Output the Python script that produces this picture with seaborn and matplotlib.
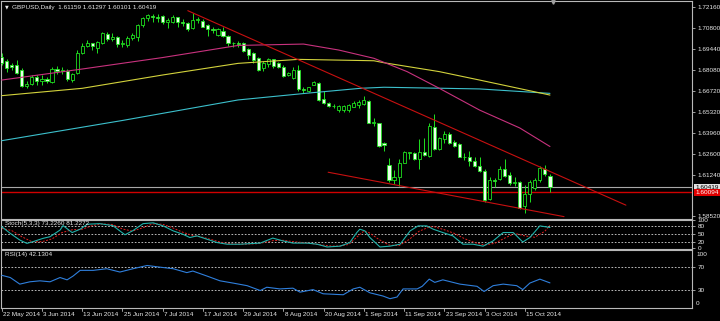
import numpy as np
import pandas as pd
import matplotlib
matplotlib.use("Agg")
import matplotlib.pyplot as plt
import matplotlib.transforms as mtransforms
import seaborn as sns

# ---------------- data ----------------
dates = pd.bdate_range("2014-05-22", "2014-10-22")  # daily bars

opens = [1.6891, 1.6865, 1.6839, 1.6839, 1.6807, 1.6702, 1.6715, 1.6761, 1.6735, 1.6748,
         1.6730, 1.6811, 1.6800, 1.6802, 1.6741, 1.6785, 1.6916, 1.6963, 1.6981, 1.6948,
         1.6981, 1.7040, 1.7007, 1.7024, 1.6974, 1.6970, 1.7018, 1.7024, 1.7100, 1.7144,
         1.7161, 1.7155, 1.7159, 1.7122, 1.7122, 1.7151, 1.7122, 1.7115, 1.7079, 1.7133,
         1.7128, 1.7098, 1.7072, 1.7035, 1.7063, 1.7029, 1.6981, 1.6985, 1.6981, 1.6942,
         1.6916, 1.6883, 1.6818, 1.6846, 1.6876, 1.6850, 1.6828, 1.6772, 1.6752, 1.6807,
         1.6680, 1.6671, 1.6711, 1.6720, 1.6615, 1.6589, 1.6571, 1.6545, 1.6543, 1.6545,
         1.6567, 1.6578, 1.6584, 1.6606, 1.6462, 1.6458, 1.6328, 1.6186, 1.6088, 1.6106,
         1.6201, 1.6267, 1.6267, 1.6223, 1.6273, 1.6245, 1.6436, 1.6289, 1.6354, 1.6389,
         1.6338, 1.6324, 1.6241, 1.6241, 1.6214, 1.6180, 1.6149, 1.5962, 1.6088, 1.6093,
         1.6158, 1.6121, 1.6067, 1.6077, 1.5919, 1.5997, 1.6034, 1.6088, 1.6158, 1.61159]
highs = [1.6918, 1.6876, 1.6850, 1.6872, 1.6818, 1.6735, 1.6774, 1.6774, 1.6774, 1.6761,
         1.6828, 1.6833, 1.6828, 1.6811, 1.6789, 1.6937, 1.6985, 1.7002, 1.6985, 1.6998,
         1.7057, 1.7055, 1.7046, 1.7029, 1.7002, 1.7029, 1.7050, 1.7107, 1.7155, 1.7172,
         1.7172, 1.7172, 1.7166, 1.7144, 1.7166, 1.7155, 1.7138, 1.7122, 1.7181, 1.7151,
         1.7138, 1.7107, 1.7089, 1.7079, 1.7085, 1.7035, 1.6991, 1.6998, 1.6991, 1.6948,
         1.6926, 1.6894, 1.6865, 1.6883, 1.6880, 1.6861, 1.6839, 1.6795, 1.6824, 1.6839,
         1.6693, 1.6697, 1.6737, 1.6730, 1.6671, 1.6600, 1.6584, 1.6578, 1.6578, 1.6582,
         1.6606, 1.6611, 1.6637, 1.6611, 1.6491, 1.6462, 1.6338, 1.6230, 1.6154, 1.6223,
         1.6280, 1.6273, 1.6273, 1.6354, 1.6361, 1.6458, 1.6519, 1.6371, 1.6410, 1.6404,
         1.6350, 1.6332, 1.6263, 1.6280, 1.6241, 1.6241, 1.6158, 1.6106, 1.6101, 1.6180,
         1.6223, 1.6143, 1.6106, 1.6084, 1.6056, 1.6088, 1.6099, 1.6180, 1.6186, 1.61297]
lows = [1.6839, 1.6795, 1.6807, 1.6781, 1.6694, 1.6690, 1.6709, 1.6709, 1.6709, 1.6722,
        1.6720, 1.6781, 1.6781, 1.6737, 1.6730, 1.6781, 1.6911, 1.6955, 1.6937, 1.6916,
        1.6976, 1.6998, 1.6998, 1.6959, 1.6959, 1.6959, 1.7002, 1.6998, 1.7089, 1.7128,
        1.7122, 1.7122, 1.7107, 1.7079, 1.7111, 1.7089, 1.7094, 1.7063, 1.7072, 1.7111,
        1.7085, 1.7029, 1.7046, 1.7029, 1.7020, 1.6963, 1.6959, 1.6959, 1.6926, 1.6876,
        1.6850, 1.6802, 1.6802, 1.6828, 1.6818, 1.6818, 1.6763, 1.6767, 1.6746, 1.6671,
        1.6658, 1.6665, 1.6707, 1.6606, 1.6584, 1.6563, 1.6556, 1.6532, 1.6532, 1.6535,
        1.6563, 1.6556, 1.6578, 1.6458, 1.6441, 1.6306, 1.6280, 1.6077, 1.6062, 1.6049,
        1.6197, 1.6223, 1.6219, 1.6158, 1.6245, 1.6236, 1.6284, 1.6284, 1.6328, 1.6324,
        1.6306, 1.6237, 1.6219, 1.6180, 1.6175, 1.6143, 1.5947, 1.5958, 1.6045, 1.6088,
        1.6106, 1.6056, 1.6049, 1.5897, 1.5875, 1.5947, 1.6023, 1.6077, 1.6114, 1.60101]
closes = [1.6852, 1.6818, 1.6823, 1.6789, 1.6702, 1.6715, 1.6761, 1.6735, 1.6748, 1.6735,
          1.6811, 1.6800, 1.6807, 1.6746, 1.6781, 1.6920, 1.6963, 1.6981, 1.6966, 1.6991,
          1.7046, 1.7007, 1.7024, 1.6974, 1.6985, 1.7018, 1.7035, 1.7100, 1.7144, 1.7166,
          1.7155, 1.7144, 1.7122, 1.7133, 1.7155, 1.7122, 1.7111, 1.7072, 1.7133, 1.7138,
          1.7089, 1.7072, 1.7068, 1.7072, 1.7029, 1.6981, 1.6985, 1.6979, 1.6933, 1.6905,
          1.6872, 1.6807, 1.6854, 1.6876, 1.6833, 1.6824, 1.6767, 1.6789, 1.6807, 1.6680,
          1.6676, 1.6693, 1.6728, 1.6611, 1.6589, 1.6571, 1.6569, 1.6571, 1.6569, 1.6575,
          1.6589, 1.6600, 1.6611, 1.6462, 1.6465, 1.6310, 1.6317, 1.6088, 1.6110, 1.6201,
          1.6273, 1.6269, 1.6223, 1.6273, 1.6252, 1.6441, 1.6289, 1.6361, 1.6389, 1.6328,
          1.6310, 1.6241, 1.6237, 1.6214, 1.6180, 1.6149, 1.5958, 1.6088, 1.6080, 1.6158,
          1.6114, 1.6067, 1.6077, 1.5903, 1.5997, 1.6077, 1.6088, 1.6165, 1.6127, 1.60419]

# moving averages (sampled at bar positions)
ma_pink_bar = [0, 16, 32, 47, 60, 67, 74, 80.6, 87, 95, 103, 109]
ma_pink = [1.6741, 1.6813, 1.6888, 1.6967, 1.6976, 1.6937, 1.6883, 1.6796, 1.6687, 1.6545, 1.6428, 1.6307]
ma_yellow_bar = [0, 16, 32, 47, 59, 74, 76, 87, 95, 109]
ma_yellow = [1.6639, 1.6687, 1.6774, 1.6850, 1.6876, 1.6867, 1.6854, 1.6796, 1.6741, 1.6643]
ma_cyan_bar = [0, 24, 47, 61, 71.3, 76, 95, 109]
ma_cyan = [1.6345, 1.6477, 1.6611, 1.6656, 1.6687, 1.6694, 1.6683, 1.6654]

# trend lines (bar, price)
trend_upper_bar = [37.0, 124.1]
trend_upper = [1.7194, 1.5924]
trend_lower_bar = [64.9, 111.8]
trend_lower = [1.6139, 1.5849]
red_level = 1.60094
bid_level = 1.60419

# Stochastic (5,3,3)
stoch_main_bar = [0, 1.7, 3.6, 5.0, 6.2, 8.2, 9.6, 11.6, 12.2, 14.0, 15.6, 17.0, 19.5, 22.1, 24.5,
                  26.1, 28.1, 30.1, 32.1, 34.1, 36.0, 37.4, 38.8, 40.8, 42.8, 44.8, 47.4, 51.4,
                  53.9, 55.9, 57.9, 60.7, 62.7, 64.7, 67.3, 69.2, 70.6, 71.2, 72.2, 73.2, 75.2,
                  77.2, 79.2, 81.2, 82.8, 84.5, 85.8, 87.7, 89.7, 91.7, 93.7, 95.7, 97.7, 99.7,
                  101.7, 103.6, 105.0, 107.0, 109.0]
stoch_main = [76, 52, 28, 16, 22, 34, 40, 64, 80, 55, 67, 85, 87, 80, 47,
              62, 87, 90, 79, 61, 49, 37, 43, 31, 19, 13, 13, 17,
              35, 25, 17, 17, 13, 3, 6, 19, 55, 67, 61, 37, 3,
              6, 13, 61, 79, 79, 67, 55, 43, 13, 13, 6, 25, 55,
              55, 21, 37, 79, 73.2]
stoch_sig_bar = [0, 2, 4, 6, 8, 10, 12, 14, 16, 18, 20, 22, 24, 26, 28, 30, 32, 34, 36, 38, 40,
                 42, 44, 46, 48, 51, 54, 56, 58, 61, 63, 65, 67, 69, 71, 72, 73, 75, 77, 79,
                 81, 83, 85, 86, 88, 90, 92, 94, 96, 98, 100, 102, 104, 106, 108, 109]
stoch_sig = [70, 62, 40, 22, 22, 32, 55, 65, 67, 80, 86, 84, 68, 60, 72, 86, 85, 72, 56, 44, 38,
             28, 18, 14, 13, 15, 26, 27, 22, 17, 12, 7, 6, 12, 45, 60, 55, 30, 10, 8,
             30, 60, 75, 76, 65, 52, 33, 19, 10, 16, 35, 52, 43, 38, 60, 81.2]

# RSI(14)
rsi_bar = [0, 1.7, 3.6, 5.6, 7.6, 9.6, 11.6, 13.0, 14.2, 15.6, 18.2, 20.9, 23.5, 26.1, 28.9,
           31.5, 34.1, 36.8, 38.0, 40.8, 43.4, 46.0, 48.8, 51.4, 52.7, 55.3, 57.9, 59.3, 61.9,
           63.9, 67.9, 69.9, 71.2, 73.2, 75.8, 77.2, 78.6, 79.8, 82.6, 83.6, 85.0, 86.1, 87.7,
           91.1, 94.5, 95.9, 97.7, 99.7, 102.4, 103.6, 105.0, 107.0, 109.0]
rsi_vals = [55.3, 51.4, 40, 44, 45.7, 44, 51.4, 47.4, 54, 63.8, 63.8, 66.6, 60.9, 66.6, 72.2,
            69.3, 66.6, 59.9, 62.6, 54, 45.7, 41.8, 37.3, 28.9, 34.6, 31.7, 33, 26.1, 30.5,
            23.3, 21.6, 31.7, 34.6, 25, 19.4, 14.8, 17.7, 31.7, 31.7, 36.2, 48.6, 43, 47.4,
            40, 36.2, 27.2, 37.3, 40, 37.3, 30.5, 41.8, 48.6, 42.13]

price_ticks = [1.72160, 1.70800, 1.69440, 1.68080, 1.66720, 1.65320, 1.63960, 1.62600, 1.61240, 1.58520]
date_tick_bars = [0, 8, 16, 24, 32, 40, 48, 56, 64, 72, 80, 88, 96, 104]
date_tick_labels = ["22 May 2014", "3 Jun 2014", "13 Jun 2014", "25 Jun 2014", "7 Jul 2014",
                    "17 Jul 2014", "29 Jul 2014", "8 Aug 2014", "20 Aug 2014", "1 Sep 2014",
                    "11 Sep 2014", "23 Sep 2014", "3 Oct 2014", "15 Oct 2014"]
title_text = "GBPUSD,Daily  1.61159 1.61297 1.60101 1.60419"
stoch_text = "Stoch(5,3,3) 73.2260 81.2272"
rsi_text = "RSI(14) 42.1304"

# ---------------- styling ----------------
sns.set_theme(style="dark", rc={"axes.facecolor": "black", "figure.facecolor": "black",
                                "axes.edgecolor": "#b8b8b8", "axes.grid": False})
plt.rcParams['font.family'] = ['Liberation Sans', 'DejaVu Sans']

W, H = 720, 321
FS = 4.6
TXT = "#e8e8e8"
GREEN = "#1fe01f"
BEAR_FILL = "#eaffea"

fig = plt.figure(figsize=(W / 100, H / 100), dpi=100)


def rect(x0, y0, x1, y1):
    return [x0 / W, 1 - y1 / H, (x1 - x0) / W, (y1 - y0) / H]


ax = fig.add_axes(rect(1, 1, 692, 219))
ax_st = fig.add_axes(rect(1, 219.5, 692, 248.7), sharex=ax)
ax_rsi = fig.add_axes(rect(1, 250, 692, 308), sharex=ax)

XMIN, XMAX = -0.14, 137.24
for a in (ax, ax_st, ax_rsi):
    a.set_facecolor("black")
    for s in a.spines.values():
        s.set_color("#b8b8b8")
        s.set_linewidth(0.8)
    a.yaxis.tick_right()
    a.tick_params(axis="y", which="both", colors="#b8b8b8", labelcolor=TXT, labelsize=FS,
                  length=2.5, width=0.6, pad=1.5, direction="out")
    a.tick_params(axis="x", which="both", length=0, labelbottom=False)
    a.grid(False)
ax.set_xlim(XMIN, XMAX)

# ---- candles ----
o = np.array(opens); h = np.array(highs); l = np.array(lows); c = np.array(closes)
idx = np.arange(len(dates))
up = c >= o
body_lo = np.minimum(o, c)
body_h = np.maximum(np.abs(c - o), 0.00006)
ax.vlines(idx, l, h, color=GREEN, lw=0.7, zorder=2)
ax.bar(idx[up], body_h[up], bottom=body_lo[up], width=0.62, facecolor="black",
       edgecolor=GREEN, linewidth=0.6, zorder=3)
ax.bar(idx[~up], body_h[~up], bottom=body_lo[~up], width=0.62, facecolor=BEAR_FILL,
       edgecolor=GREEN, linewidth=0.6, zorder=3)

# ---- moving averages ----
sns.lineplot(x=ma_cyan_bar, y=ma_cyan, ax=ax, color="#3cc0cc", lw=0.8, zorder=4)
sns.lineplot(x=ma_yellow_bar, y=ma_yellow, ax=ax, color="#d2d23c", lw=0.8, zorder=4)
sns.lineplot(x=ma_pink_bar, y=ma_pink, ax=ax, color="#c8327e", lw=0.8, zorder=4)

# ---- trend lines & levels ----
ax.plot(trend_upper_bar, trend_upper, color="#c81010", lw=0.8, zorder=5)
ax.plot(trend_lower_bar, trend_lower, color="#c81010", lw=0.8, zorder=5)
ax.axhline(bid_level, color="#a8a8a8", lw=0.8, zorder=1)
ax.axhline(red_level, color="#d00000", lw=1.0, zorder=1)

ax.set_ylim(1.58336, 1.72572)
ax.set_yticks(price_ticks)
ax.set_yticklabels([f"{p:.5f}" for p in price_ticks])
ax.set_ylabel("")
ax.set_xlabel("")

# price tags on the right axis
tr = mtransforms.blended_transform_factory(ax.transAxes, ax.transData)
ax.text(1.005, bid_level, f"{bid_level:.5f}", transform=tr, fontsize=FS, color="black",
        va="center", ha="left", zorder=10, clip_on=False,
        bbox=dict(boxstyle="square,pad=0.15", fc="#e0e0e0", ec="none"))
ax.text(1.005, red_level, f"{red_level:.5f}", transform=tr, fontsize=FS, color="white",
        va="center", ha="left", zorder=11, clip_on=False,
        bbox=dict(boxstyle="square,pad=0.15", fc="#e00000", ec="none"))

# title
ax.text(0.006, 0.972, "\u25bc", transform=ax.transAxes, fontsize=3.5, color=TXT, va="center",
        ha="left", family=["DejaVu Sans"])
ax.text(0.016, 0.972, title_text, transform=ax.transAxes, fontsize=FS, color=TXT, va="center", ha="left")
# chart-shift marker
ax.plot([109.6], [1.7250], marker="v", ms=2.5, color="#a0a0a0", clip_on=False, zorder=6)

# ---- stochastic ----
for lv in (20, 50, 80):
    ax_st.axhline(lv, color="#d8d8d8", lw=0.6, ls=(0, (2, 2)), zorder=1)
sns.lineplot(x=stoch_main_bar, y=stoch_main, ax=ax_st, color="#20b2aa", lw=0.8, zorder=3)
sns.lineplot(x=stoch_sig_bar, y=stoch_sig, ax=ax_st, color="#e02020", lw=0.7,
             linestyle=(0, (2, 1.5)), zorder=2)
ax_st.set_ylim(-3.2, 102)
ax_st.set_yticks([100, 80, 50, 20, 0])
ax_st.set_yticklabels(["100", "80", "50", "20", "0"])
ax_st.set_xlabel(""); ax_st.set_ylabel("")
ax_st.text(0.006, 0.87, stoch_text, transform=ax_st.transAxes, fontsize=FS, color=TXT,
           va="center", ha="left")

# ---- RSI ----
for lv in (30, 70):
    ax_rsi.axhline(lv, color="#d8d8d8", lw=0.6, ls=(0, (2, 2)), zorder=1)
sns.lineplot(x=rsi_bar, y=rsi_vals, ax=ax_rsi, color="#2f7fdc", lw=0.8, zorder=3)
ax_rsi.set_ylim(0, 100)
ax_rsi.set_ylim(-1.3, 99)
ax_rsi.set_yticks([70, 30])
ax_rsi.set_yticklabels(["70", "30"])
trr = mtransforms.blended_transform_factory(ax_rsi.transAxes, ax_rsi.transData)
ax_rsi.text(1.006, 92, "100", transform=trr, fontsize=FS, color=TXT, va="center", ha="left")
ax_rsi.text(1.006, 7, "0", transform=trr, fontsize=FS, color=TXT, va="center", ha="left")
ax_rsi.set_xlabel(""); ax_rsi.set_ylabel("")
ax_rsi.text(0.006, 0.92, rsi_text, transform=ax_rsi.transAxes, fontsize=FS, color=TXT,
            va="center", ha="left")

# date axis
trx = mtransforms.blended_transform_factory(ax_rsi.transData, ax_rsi.transAxes)
for b, lab in zip(date_tick_bars, date_tick_labels):
    ax_rsi.plot([b, b], [0, -0.06], color="#b8b8b8", lw=0.6, transform=trx, clip_on=False)
    ax_rsi.text(b + 0.25, -0.11, lab, transform=trx, fontsize=FS, color=TXT, va="center", ha="left")

ax.set_xlim(XMIN, XMAX)
fig.savefig("out.png", dpi=100, facecolor="black")
